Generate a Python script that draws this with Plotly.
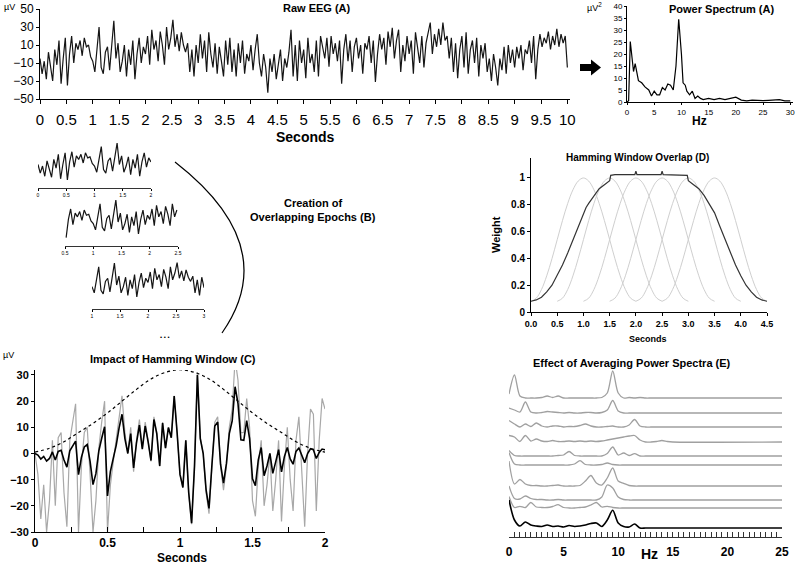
import plotly.graph_objects as go

W, H = 800, 564
FONT = "Liberation Sans, Arial, sans-serif"

# ---------------- data ----------------
EEG_STEP = 0.04  # seconds between samples
raw_eeg = [
    -5, -22, -8, -28, 2, -15, -30, 5, -12, 15, -33, -5, 18, -35, 0, 20, -10, 12, 5, 15, -2, 18, 8, 10, -3,
    -8, -20, 5, 30, -15, -22, 2, 8, -18, 10, 37, -5, 12, -20, -8, 10, -25, 5, -12, 15, -28, 0, 18, -10, 8,
    0, 20, -12, 27, 5, 15, -8, 25, 10, -12, 30, 5, 18, 38, 8, 22, 3, 24, 10, 2, 12, -20, 5, -25, 10,
    -10, 22, -5, 15, -20, 24, 0, -15, 12, -22, 8, -8, -25, 15, -12, 18, -20, 5, -25, 12, -10, 15, -22, 0, -8,
    10, -18, 5, 22, -10, -25, 0, -15, -43, -5, -20, 0, -28, -10, 5, -30, -5, -15, 2, 27, -25, 10, -30, 15, -10,
    5, -27, 18, -10, 0, -20, 15, -25, 20, 5, -5, 18, -14, 20, 0, 12, -8, 15, -33, 5, 22, -8, 15, -20, 8,
    18, -5, 10, -22, 12, 5, 20, -10, 15, -31, 0, 22, 5, 18, -12, 25, 8, 29, -5, 15, 27, -20, 10, -8, 20,
    0, 15, -22, 24, 5, -10, 20, -15, 12, 25, 35, 0, 22, 8, 28, 10, 35, 15, 20, -5, 18, -20, 12, -27, 5,
    20, -15, 24, -22, 5, 15, -10, 18, -25, 10, -5, 12, -20, -5, -30, 0, -15, -35, -5, -18, 8, -22, 10, -10, 5,
    -15, 8, -5, 10, -18, 5, 0, 15, -10, 20, -28, 5, 22, 8, 18, 12, 25, 5, 20, 10, 28, 8, 22, 12, 20, -15,
]
raw_yticks = [-50, -30, -10, 10, 30, 50]

ps_hz = [0, 0.3, 0.6, 1.2, 1.5, 2.1, 2.7, 3.3, 4, 4.5, 5, 5.5, 6, 6.5, 7, 7.5, 8, 8.5, 9, 9.5,
         10, 10.3, 10.7, 11, 11.5, 12, 12.5, 13, 13.5, 14, 15, 16, 17, 18, 19, 20, 21, 22, 23, 24,
         25, 26, 27, 28, 29, 30]
ps_power = [0, 0.5, 25.2, 12.7, 16, 8.9, 8, 6.3, 5, 2.5, 4.5, 3, 3, 6, 5, 7.5, 7, 5, 15, 34.5,
            20, 8, 7, 4.5, 3, 4.5, 1.5, 2.5, 1.5, 1, 1.5, 1, 1.5, 1, 1.5, 2, 0.8, 0.5, 0.8, 0.6,
            0.6, 0.7, 0.8, 1.0, 0.5, 0.5]

epoch_starts = [0.0, 0.5, 1.0]
EPOCH_LEN = 2.0

C_STEP = 0.02
c_raw = [
    0, -8, -25, -12, -30, -18, 5, -20, 6, 8,
    -15, -28, 5, 12, 19, -30, -5, 8, 10, -8,
    -30, -18, 2, 12, 20, -30, -12, -3, 5, 15,
    22, 8, 0, 10, -7, 5, 13, 2, 12, 5,
    -3, 14, 8, -5, 12, 2, 10, 6, 22, 8,
    -8, -13, 5, -15, -27, -5, 31, 6, 0, -15,
    -23, -5, 12, 14, -5, -14, -5, 10, 17, 36,
    28, 8, 8, 21, 10, -18, -24, -5, 5, -20,
    -12, 0, -22, -10, 5, -26, -5, 10, -10, -22,
    5, 14, -5, -28, 0, 17, 15, -22, 5, 21,
    17,
]
c_windowed = [
    0, -0.6, -2.1, -1.1, -2.9, -1.9, 0.6, -2.5, 0.8, 1.2,
    -2.5, -5.2, 1.0, 2.7, 4.7, -8.1, -1.5, 2.5, 3.4, -3.0,
    -11.9, -7.7, 0.9, 5.8, 10.2, -16.2, -6.8, -1.8, 3.1, 9.8,
    15.0, 5.7, 0, 7.6, -5.5, 4.1, 10.8, 1.7, 10.5, 4.5,
    -2.7, 13.0, 7.5, -4.8, 11.6, 2.0, 9.9, 6.0, 21.9, 8.0,
    -8.0, -13.0, 5.0, -14.9, -26.6, -4.9, 30.0, 5.7, 0, -13.9,
    -21.0, -4.5, 10.5, 12.0, -4.2, -11.3, -3.9, 7.6, 12.5, 25.5,
    19.1, 5.2, 5.0, 12.6, 5.7, -9.7, -12.3, -2.4, 2.3, -8.5,
    -4.8, 0, -7.6, -3.2, 1.5, -7.0, -1.2, 2.3, -2.1, -4.1,
    0.8, 2.1, -0.7, -3.5, 0, 1.8, 1.4, -1.9, 0.4, 1.7,
    1.4,
]
c_window_t = [0.0, 0.1, 0.2, 0.3, 0.4, 0.5, 0.6, 0.7, 0.8, 0.9, 1.0,
              1.1, 1.2, 1.3, 1.4, 1.5, 1.6, 1.7, 1.8, 1.9, 2.0]
c_window_uv = [0.5, 2, 4.5, 8, 11.5, 15.5, 20, 24.5, 28.5, 31, 32,
               31, 28.5, 24.5, 20, 15.5, 11.5, 8, 4.5, 2, 0.5]
c_xtick_vals = [0, 0.25, 0.5, 0.75, 1, 1.25, 1.5, 1.75, 2]
c_xtick_text = ["0", " ", "0.5", " ", "1", " ", "1.5", " ", "2"]
c_yticks = [-30, -20, -10, 0, 10, 20, 30]

win_offsets = [0.0, 0.1, 0.2, 0.3, 0.4, 0.5, 0.6, 0.7, 0.8, 0.9, 1.0,
               1.1, 1.2, 1.3, 1.4, 1.5, 1.6, 1.7, 1.8, 1.9, 2.0]
win_weight = [0.08, 0.103, 0.168, 0.27, 0.398, 0.54, 0.682, 0.81, 0.912, 0.977, 1.0,
              0.977, 0.912, 0.81, 0.682, 0.54, 0.398, 0.27, 0.168, 0.103, 0.08]
win_starts = [0.0, 0.5, 1.0, 1.5, 2.0, 2.5]
overlap_t = [0.0, 0.1, 0.2, 0.3, 0.4, 0.5, 0.6, 0.7, 0.8, 0.9, 1.0, 1.05, 1.1, 1.2, 1.3, 1.4, 1.48,
             1.5, 1.52, 1.6, 1.98, 2.0, 2.02, 2.48, 2.5, 2.52, 2.98, 3.0, 3.1, 3.2, 3.3, 3.4,
             3.45, 3.5, 3.6, 3.7, 3.8, 3.9, 4.0, 4.1, 4.2, 4.3, 4.4, 4.5]
overlap_w = [0.08, 0.09, 0.11, 0.15, 0.2, 0.27, 0.35, 0.44, 0.54, 0.64, 0.74, 0.78, 0.81, 0.87, 0.92, 0.95, 0.97,
             0.98, 1.02, 1.025, 1.025, 1.05, 1.025, 1.025, 1.05, 1.025, 1.02, 0.98, 0.95, 0.92, 0.87, 0.81,
             0.78, 0.74, 0.64, 0.54, 0.44, 0.35, 0.27, 0.2, 0.15, 0.11, 0.09, 0.08]
d_yticks = [0, 0.2, 0.4, 0.6, 0.8, 1]
d_yticktext = ["0", "0.2", "0.4", "0.6", "0.8", "1"]

spec_hz = [0, 0.5, 1, 1.5, 2, 2.5, 3, 3.5, 4, 4.5, 5, 5.5, 6, 6.5, 7, 7.5, 8, 8.5, 9, 9.5,
           10, 10.5, 11, 11.5, 12, 12.5, 13, 13.5, 14, 14.5, 15, 25]
spec_1 = [4, 23, 2, 0, 0, 0, 0.5, 2, 0.5, 2, 0, 0, 0, 0, 0, 0, 0, 0.5, 5, 27, 5, 0, 0.5, 0, 0.5, 0, 0, 0, 0, 0, 0, 0]
spec_2 = [5, 3, 1, 11, 1, 0, 0.5, 1.5, 1, 0.5, 0, 0.5, 0, 0, 0.5, 0.5, 0, 0.5, 3, 12.5, 2, 0, 0, 0, 0, 0, 0, 0, 0, 0, 0, 0]
spec_3 = [6.5, 3, 0, 3, 0.5, 4, 1, 0, 1, 1, 0, 0.5, 0.5, 1.5, 3, 1, 0, 0, 0.5, 1, 0, 0, 2, 7.5, 1, 0, 0, 0, 0, 0, 0, 0]
spec_4 = [6.5, 5, 0.5, 6.5, 1, 3, 1, 0.5, 1.5, 0.5, 0.5, 1, 0.5, 1, 0.5, 1, 0.5, 1, 2, 3, 4, 5, 6, 6.5, 2, 0, 0, 0.5, 1.5, 0.5, 0, 0]
spec_5 = [5.5, 0.5, 0, 0, 0, 0, 0, 0, 0, 0.5, 1, 4.5, 0.5, 0, 0, 0, 0, 0, 2.5, 9, 1, 3, 0.5, 2.3, 0, 0, 0, 0, 0, 0, 0, 0]
spec_6 = [12.5, 1, 0, 0, 0, 0, 0, 0, 0, 0, 0, 0, 1, 4.3, 0.5, 0, 0, 0.5, 2, 0.5, 0, 0, 0, 0, 0, 0, 0, 0, 0, 0, 0, 0]
spec_7 = [25, 2, 6.5, 2, 0.5, 0.5, 0, 0, 0.5, 1, 0, 0, 0, 0.5, 5, 10.5, 3, 1, 8, 18, 5, 2.7, 0.5, 0, 0, 0, 0, 0, 0, 0, 0, 0]
spec_8 = [14, 1.5, 1, 4, 1.5, 0.5, 0.5, 0, 0, 0.5, 0, 0, 0, 0, 0, 0, 0, 3, 15, 12, 3, 0.5, 0, 0, 0, 0, 0, 0, 0, 0, 0, 0]
spec_9 = [11.5, 0.5, 1.7, 0.5, 5.5, 1, 0.5, 0.5, 1.5, 3.3, 0.5, 0, 0, 0.5, 1, 3, 5.5, 1, 1.7, 0.5, 0, 0, 0, 0, 0, 0, 0, 0, 0, 0, 0, 0]
spec_avg = [28, 8, 2, 6, 3, 2, 1.5, 3, 1.5, 2, 1, 2.5, 1.5, 2, 3, 4.5, 5, 1.5, 8, 17.7, 5, 1.5, 1, 4, 0, 0, 0, 0, 0, 0, 0, 0]
e_major_ticks = [0, 5, 10, 15, 20, 25]

# ---------------- layout helpers ----------------
def dom_x(a, b):
    return [a / W, b / W]


def dom_y(top, bottom):
    return [1 - bottom / H, 1 - top / H]


def px(x, y):
    return x / W, 1 - y / H


def fnt(size, bold=False):
    return dict(family=FONT, size=size, color="black", weight="bold" if bold else "normal")


def axis(**kw):
    base = dict(showgrid=False, zeroline=False, showline=True, linecolor="black", linewidth=1,
                ticks="outside", tickcolor="black", ticklen=3, tickwidth=1, fixedrange=True,
                tickfont=fnt(10), automargin=False, tickangle=0)
    base.update(kw)
    return base


fig = go.Figure()

# Panel A raw EEG
eeg_time = [round(i * EEG_STEP, 2) for i in range(len(raw_eeg))]
fig.add_trace(go.Scatter(x=eeg_time, y=raw_eeg, mode="lines", line=dict(color="#151515", width=1.2),
                         xaxis="x", yaxis="y", hoverinfo="skip"))
# Power spectrum
fig.add_trace(go.Scatter(x=ps_hz, y=ps_power, mode="lines", line=dict(color="black", width=1.2),
                         xaxis="x2", yaxis="y2", hoverinfo="skip"))
# Panel B epochs
for k, s in enumerate(epoch_starts):
    sel = [i for i, t in enumerate(eeg_time) if s - 1e-9 <= t <= s + EPOCH_LEN + 1e-9]
    fig.add_trace(go.Scatter(x=[eeg_time[i] for i in sel], y=[raw_eeg[i] for i in sel], mode="lines",
                             line=dict(color="#151515", width=1.2), xaxis=f"x{3 + k}", yaxis=f"y{3 + k}",
                             hoverinfo="skip"))
# Panel C
c_time = [round(i * C_STEP, 2) for i in range(len(c_raw))]
fig.add_trace(go.Scatter(x=c_time, y=c_raw, mode="lines", line=dict(color="#a8a8a8", width=1.2),
                         xaxis="x6", yaxis="y6", hoverinfo="skip"))
fig.add_trace(go.Scatter(x=c_time, y=c_windowed, mode="lines", line=dict(color="black", width=1.6),
                         xaxis="x6", yaxis="y6", hoverinfo="skip"))
fig.add_trace(go.Scatter(x=c_window_t, y=c_window_uv, mode="lines",
                         line=dict(color="black", width=1.2, dash="dot", shape="spline"),
                         xaxis="x6", yaxis="y6", hoverinfo="skip"))
# Panel D
for s in win_starts:
    fig.add_trace(go.Scatter(x=[s + o for o in win_offsets], y=win_weight, mode="lines",
                             line=dict(color="#cfcfcf", width=1, shape="spline"), xaxis="x7", yaxis="y7",
                             hoverinfo="skip"))
fig.add_trace(go.Scatter(x=overlap_t, y=overlap_w, mode="lines", line=dict(color="#333333", width=1.2),
                         xaxis="x7", yaxis="y7", hoverinfo="skip"))
# Panel E (stacked spectra; baseline offsets in pixels of the panel)
spectra = [spec_1, spec_2, spec_3, spec_4, spec_5, spec_6, spec_7, spec_8, spec_9, spec_avg]
e_offsets = [139, 124, 110, 95, 81, 72, 51, 37, 29, 9]
for k, (amp, off) in enumerate(zip(spectra, e_offsets)):
    last = k == len(spectra) - 1
    fig.add_trace(go.Scatter(x=spec_hz, y=[a + off for a in amp], mode="lines",
                             line=dict(color="black" if last else "#a0a0a0", width=1.6 if last else 1.3,
                                       shape="spline", smoothing=0.8),
                             xaxis="x8", yaxis="y8", hoverinfo="skip"))

layout = dict(width=W, height=H, margin=dict(l=0, r=0, t=0, b=0, autoexpand=False), paper_bgcolor="white",
              plot_bgcolor="rgba(0,0,0,0)", showlegend=False, font=dict(family=FONT, color="black"))

layout["xaxis"] = axis(domain=dom_x(40, 570), range=[0, 10.05], dtick=0.5, tick0=0, anchor="y",
                       tickfont=fnt(15), ticklen=4, ticklabelstandoff=3)
layout["yaxis"] = axis(domain=dom_y(9, 99), range=[-50, 50], tickvals=raw_yticks, anchor="x",
                       tickfont=fnt(12), ticklen=3)
layout["xaxis2"] = axis(domain=dom_x(627, 793), range=[0, 30.5], dtick=5, anchor="y2", tickfont=fnt(8), ticklen=2)
layout["yaxis2"] = axis(domain=dom_y(6, 102), range=[0, 40], dtick=5, anchor="x2", tickfont=fnt(8), ticklen=2)

epoch_px = [(38, 151, 140, 188), (65, 178, 197, 246), (92, 204, 260, 309)]
for k, (s, (x0, x1, y0, y1)) in enumerate(zip(epoch_starts, epoch_px)):
    n = 3 + k
    layout[f"xaxis{n}"] = axis(domain=dom_x(x0, x1), range=[s, s + EPOCH_LEN], dtick=0.5, tick0=0,
                               anchor=f"y{n}", tickfont=fnt(5), ticklen=2, linecolor="#333")
    layout[f"yaxis{n}"] = dict(domain=dom_y(y0, y1), range=[-51, 43], visible=False, anchor=f"x{n}",
                               fixedrange=True, automargin=False)

layout["xaxis6"] = axis(domain=dom_x(35, 325), range=[0, 2], tickvals=c_xtick_vals, ticktext=c_xtick_text,
                        ticks="inside", ticklen=5, anchor="y6", tickfont=fnt(12, True), ticklabelstandoff=0)
layout["yaxis6"] = axis(domain=dom_y(370, 532), range=[-30, 31.9], tickvals=c_yticks, anchor="x6",
                        tickfont=fnt(11, True), ticklen=3)

layout["xaxis7"] = axis(domain=dom_x(531, 767), range=[0, 4.5], dtick=0.5, tick0=0, tickformat=".1f",
                        anchor="y7", tickfont=fnt(9, True), ticklen=3)
layout["yaxis7"] = axis(domain=dom_y(158, 312), range=[0, 1.149], tickvals=d_yticks, ticktext=d_yticktext,
                        anchor="x7", tickfont=fnt(10, True), ticklen=3)

e_tickvals = [i * 0.5 for i in range(51)]
e_ticktext = [str(int(v)) if v in e_major_ticks else " " for v in e_tickvals]
layout["xaxis8"] = axis(domain=dom_x(509, 782), range=[0, 25], tickvals=e_tickvals, ticktext=e_ticktext,
                        ticks="inside", ticklen=5, anchor="y8", tickfont=fnt(12, True), ticklabelstandoff=4,
                        linecolor="#333", tickcolor="#333")
layout["yaxis8"] = dict(domain=dom_y(370, 537), range=[0, 167], visible=False, anchor="x8", fixedrange=True,
                        automargin=False)


def note(x, y, s, size, bold=False, xanchor="center", angle=0):
    xx, yy = px(x, y)
    return dict(x=xx, y=yy, xref="paper", yref="paper", text=s, showarrow=False, xanchor=xanchor,
                yanchor="middle", font=fnt(size, bold), textangle=angle)


annotations = [
    note(2, 7, "µV", 9, xanchor="left"),
    note(317, 8, "Raw EEG (A)", 11, True),
    note(305, 137, "Seconds", 14, True),
    note(594, 7, "µV<sup>2</sup>", 9),
    note(721, 9, "Power Spectrum (A)", 11, True),
    note(699, 121, "Hz", 12, True),
    note(313, 203, "Creation of", 11, True),
    note(313, 217, "Overlapping Epochs (B)", 11, True),
    note(165, 337, "• • •", 6),
    note(8, 355, "µV", 9),
    note(173, 359, "Impact of Hamming Window (C)", 11, True),
    note(182, 557.5, "Seconds", 12, True),
    note(637, 157, "Hamming Window Overlap (D)", 10, True),
    note(648, 339, "Seconds", 9, True),
    note(496, 235, "Weight", 11, True, angle=-90),
    note(632, 363, "Effect of Averaging Power Spectra (E)", 11, True),
    note(649, 554, "Hz", 14, True),
]
layout["annotations"] = annotations


def path_from(points):
    parts = []
    for i, (x, y) in enumerate(points):
        xx, yy = px(x, y)
        parts.append(("M" if i == 0 else "L") + f"{xx:.5f},{yy:.5f}")
    return " ".join(parts) + " Z"


arrow_pts = [(580, 64), (591, 64), (591, 59.5), (601, 67.5), (591, 75.5), (591, 71), (580, 71)]
p0, pc, p2 = px(175, 162), px(283, 246), px(222, 333)
layout["shapes"] = [
    dict(type="path", xref="paper", yref="paper", path=path_from(arrow_pts), fillcolor="black",
         line=dict(color="black", width=0)),
    dict(type="path", xref="paper", yref="paper",
         path=f"M{p0[0]:.5f},{p0[1]:.5f} Q{pc[0]:.5f},{pc[1]:.5f} {p2[0]:.5f},{p2[1]:.5f}",
         line=dict(color="black", width=1.2)),
]

fig.update_layout(**layout)
fig.write_html("out.html", config={"displayModeBar": False},
               post_script="document.body.style.margin='0';document.body.style.overflow='hidden';")
